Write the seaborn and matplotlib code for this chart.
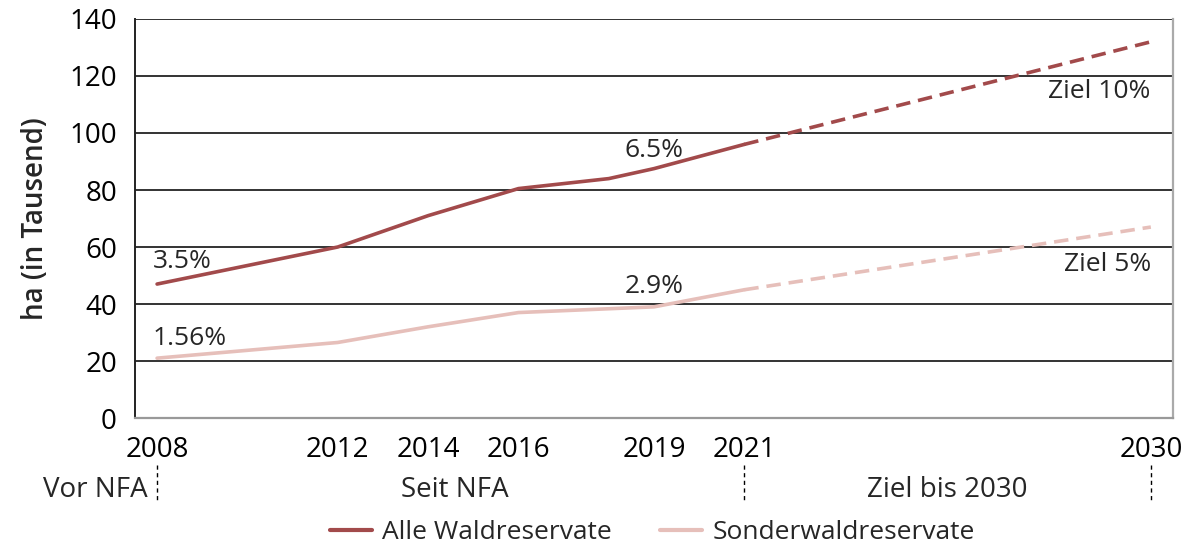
import numpy as np
import pandas as pd
import seaborn as sns
import matplotlib.pyplot as plt
import matplotlib.transforms as mtransforms
from matplotlib.lines import Line2D

# Ist-Werte (ha in Tausend)
years_alle = [2008, 2012, 2014, 2016, 2018, 2019, 2021]
alle = [47, 60, 71, 80.5, 84, 87.5, 96]
years_sonder = [2008, 2012, 2014, 2016, 2019, 2021]
sonder = [21, 26.5, 32, 37, 39, 45]

# Zielwerte bis 2030
years_ziel = [2021, 2030]
alle_ziel = [96, 132]
sonder_ziel = [45, 67]

xticks = [2008, 2012, 2014, 2016, 2019, 2021, 2030]
series_names = ['Alle Waldreservate', 'Sonderwaldreservate']
colors = ['#a24a4b', '#e6bfba']

rows = []
for y, v in zip(years_alle, alle):
    rows.append({'Jahr': y, 'ha': v, 'Serie': series_names[0], 'Phase': 'Ist'})
for y, v in zip(years_ziel, alle_ziel):
    rows.append({'Jahr': y, 'ha': v, 'Serie': series_names[0], 'Phase': 'Ziel'})
for y, v in zip(years_sonder, sonder):
    rows.append({'Jahr': y, 'ha': v, 'Serie': series_names[1], 'Phase': 'Ist'})
for y, v in zip(years_ziel, sonder_ziel):
    rows.append({'Jahr': y, 'ha': v, 'Serie': series_names[1], 'Phase': 'Ziel'})
df = pd.DataFrame(rows)

sns.set_style('white')
plt.rcParams['font.family'] = ['Open Sans', 'DejaVu Sans']
FS_TICK = 20
FS = 19

fig = plt.figure(figsize=(11.9, 5.49), dpi=100)
ax = fig.add_axes([0.1134, 0.2386, 0.8723, 0.7268])

sns.lineplot(data=df, x='Jahr', y='ha', hue='Serie', style='Phase',
             palette=dict(zip(series_names, colors)),
             dashes={'Ist': '', 'Ziel': (4, 2.2)}, linewidth=2.6,
             legend=False, ax=ax, estimator=None, sort=True)

ax.set_xlim(2007.51, 2030.49)
ax.set_ylim(0, 140)
ax.set_yticks(range(0, 141, 20))
ax.set_xticks(xticks)
ax.tick_params(axis='both', labelsize=FS_TICK, colors='black', direction='out')
ax.tick_params(axis='y', length=9, width=1.2, pad=4)
ax.tick_params(axis='x', length=8, width=1.2, pad=5)
ax.set_xlabel('')
ax.set_ylabel('ha (in Tausend)', fontsize=20, fontweight='semibold', labelpad=14)

ax.yaxis.grid(True, color='#333333', linewidth=1.4)
ax.set_axisbelow(True)
ax.spines['top'].set_visible(False)
ax.spines['left'].set_color('#222222')
ax.spines['left'].set_linewidth(1.4)
ax.spines['bottom'].set_color('#999999')
ax.spines['bottom'].set_linewidth(1.6)
ax.spines['right'].set_color('#aaaaaa')
ax.spines['right'].set_linewidth(1.6)

# Prozent-Beschriftungen
ax.text(2007.9, 55, '3.5%', fontsize=FS, va='center', ha='left')
ax.text(2007.9, 28, '1.56%', fontsize=FS, va='center', ha='left')
ax.text(2019.0, 94, '6.5%', fontsize=FS, va='center', ha='center')
ax.text(2019.0, 46, '2.9%', fontsize=FS, va='center', ha='center')
ax.text(2030.0, 114.5, 'Ziel 10%', fontsize=FS, va='center', ha='right')
ax.text(2030.0, 54, 'Ziel 5%', fontsize=FS, va='center', ha='right')

# Zeitabschnitte unter der Achse
trans = mtransforms.blended_transform_factory(ax.transData, ax.transAxes)
for xs in [2008, 2021, 2030]:
    ax.plot([xs, xs], [-0.118, -0.205], transform=trans, color='black',
            linewidth=1, linestyle=(0, (3, 2.5)), clip_on=False)
ax.text(2007.8, -0.18, 'Vor NFA', transform=trans, fontsize=FS_TICK, ha='right', va='center')
ax.text(2014.6, -0.18, 'Seit NFA', transform=trans, fontsize=FS_TICK, ha='center', va='center')
ax.text(2025.5, -0.18, 'Ziel bis 2030', transform=trans, fontsize=FS_TICK, ha='center', va='center')

handles = [Line2D([], [], color=c, linewidth=3) for c in colors]
fig.legend(handles, series_names, loc='center', bbox_to_anchor=(0.548, 0.03),
           ncol=2, frameon=False, fontsize=FS, handlelength=1.6,
           columnspacing=1.8, handletextpad=0.4)

fig.savefig('out.png', dpi=100)
